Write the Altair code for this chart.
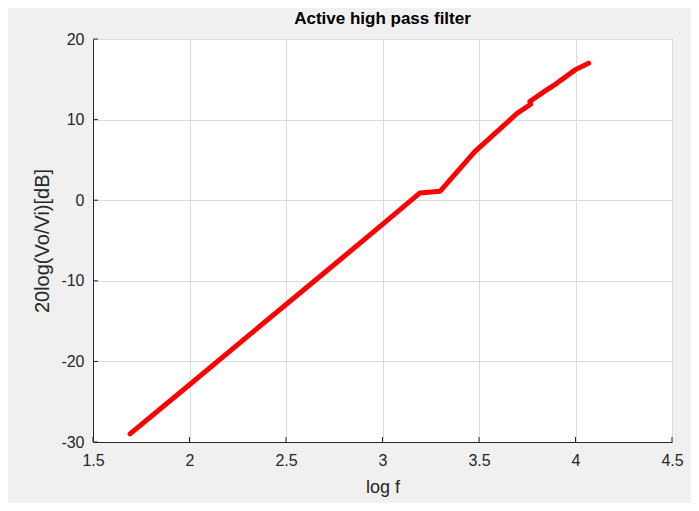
import altair as alt
import pandas as pd

# Line data (log f vs gain in dB)
log_f = [1.692, 2.0, 2.301, 2.699, 3.0, 3.194, 3.298, 3.477, 3.699, 3.768, 3.763, 3.845, 3.903, 4.0, 4.068]
gain_db = [-29.0, -22.9, -16.9, -9.0, -3.0, 0.9, 1.1, 6.0, 10.8, 11.9, 12.25, 13.6, 14.5, 16.2, 17.0]

x_ticks = [1.5, 2, 2.5, 3, 3.5, 4, 4.5]
y_ticks = [-30, -20, -10, 0, 10, 20]

df = pd.DataFrame({"logf": log_f, "db": gain_db, "idx": list(range(len(log_f)))})

FONT = "Liberation Sans"
TXT = "#262626"

xscale = alt.Scale(domain=[1.5, 4.5], nice=False, zero=False)
yscale = alt.Scale(domain=[-30, 20], nice=False, zero=False)

line = alt.Chart(df).mark_line(color="#ff0000", strokeWidth=5, strokeCap="round", strokeJoin="round").encode(
    x=alt.X("logf:Q", scale=xscale,
            axis=alt.Axis(values=x_ticks, title="log f", labelExpr="datum.value + ''", grid=True,
                          gridColor="#dcdcdc", ticks=False, domainColor=TXT,
                          labelFontSize=16, labelColor=TXT, labelFont=FONT, labelPadding=10,
                          titleFontSize=18, titleFont=FONT, titleColor=TXT, titleFontWeight="normal",
                          titlePadding=10, labelFlush=False)),
    y=alt.Y("db:Q", scale=yscale,
            axis=alt.Axis(values=y_ticks, title="20log(Vo/Vi)[dB]", labelExpr="datum.value + ''", grid=True,
                          gridColor="#dcdcdc", ticks=False, domainColor=TXT,
                          labelFontSize=16, labelColor=TXT, labelFont=FONT, labelPadding=9,
                          titleFontSize=20, titleFont=FONT, titleColor=TXT, titleFontWeight="normal",
                          titlePadding=8, labelFlush=False)),
    order=alt.Order("idx:Q"),
)

xt = pd.DataFrame({"v": x_ticks})
yt = pd.DataFrame({"v": y_ticks})

x_tick_marks = alt.Chart(xt).mark_rule(color=TXT, strokeWidth=1).encode(
    x=alt.X("v:Q", scale=xscale),
    y=alt.value(403),
    y2=alt.value(398),
)
y_tick_marks = alt.Chart(yt).mark_rule(color=TXT, strokeWidth=1).encode(
    y=alt.Y("v:Q", scale=yscale),
    x=alt.value(0),
    x2=alt.value(5),
)

chart = alt.layer(line, x_tick_marks, y_tick_marks).properties(
    width=579,
    height=403,
    title=alt.TitleParams("Active high pass filter", fontSize=17, font=FONT, fontWeight="bold",
                          color="#000000", offset=3, anchor="middle"),
    background="#f0f0f0",
    padding={"left": 85, "top": 31, "right": 19, "bottom": 61},
    autosize=alt.AutoSizeParams(type="none"),
).configure_view(
    fill="white", stroke="#c8c8c8", strokeWidth=1
)

chart.save("out.html", embed_options={"renderer": "svg", "actions": False})
